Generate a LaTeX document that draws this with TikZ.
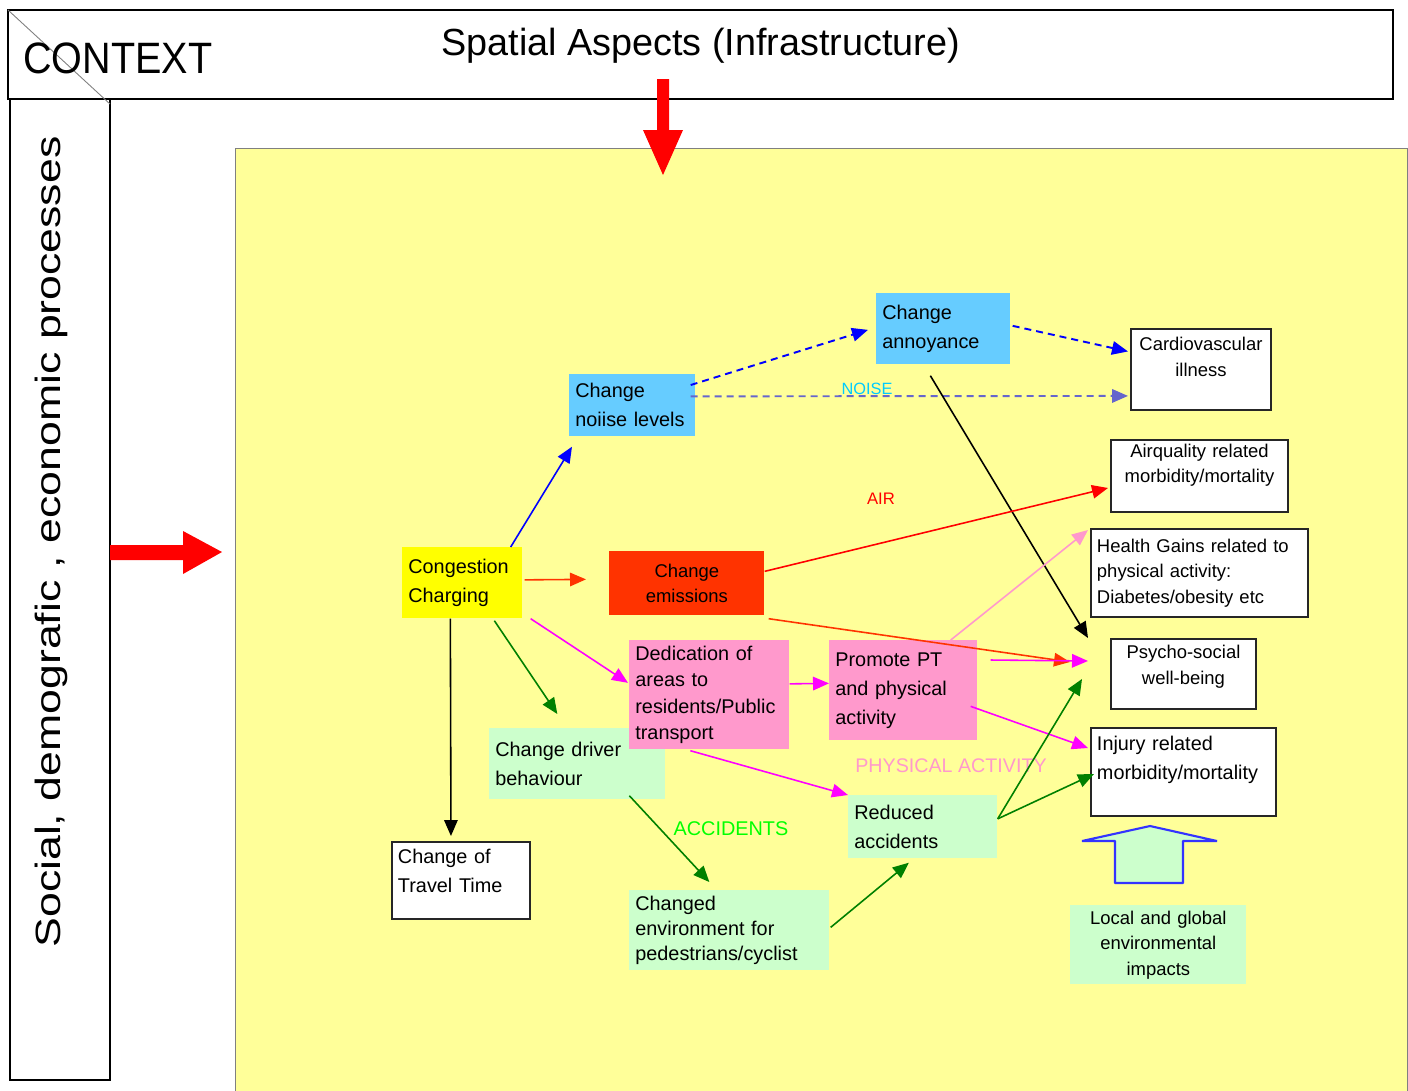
\documentclass[tikz,border=0pt]{standalone}
\usepackage{fontspec}
\setmainfont{Liberation Sans}
\usepackage{xcolor}
\definecolor{NoteYellow}{HTML}{FFFF99}
\definecolor{SkyBlue}{HTML}{66CCFF}
\definecolor{BrightYellow}{HTML}{FFFF00}
\definecolor{FlameRed}{HTML}{FF3300}
\definecolor{RosePink}{HTML}{FF99CC}
\definecolor{MintGreen}{HTML}{CCFFCC}
\definecolor{Periwinkle}{HTML}{6666CC}
\definecolor{LeafGreen}{HTML}{008000}
\definecolor{NeonGreen}{HTML}{00FF00}
\definecolor{Aqua}{HTML}{00CCFF}
\definecolor{HotMagenta}{HTML}{FF00FF}
\usepackage{tikz}
\usetikzlibrary{arrows.meta}

\newcommand{\bigtxt}{\fontsize{11.3}{16.5}\selectfont}
\newcommand{\smalltxt}{\fontsize{10.5}{14.5}\selectfont}

\tikzset{
  box/.style={anchor=north west, inner xsep=0.12cm, inner ysep=0.06cm, align=left, font=\bigtxt},
  plainbox/.style={box, fill=white, draw=black!85, line width=1.1pt, font=\smalltxt},
  link/.style={line width=0.9pt, -{Triangle[length=0.32cm,width=0.27cm]}},
  noisy/.style={link, line width=1.1pt, dash pattern=on 0.14cm off 0.1cm},
}

\begin{document}
\begin{tikzpicture}[x=0.02cm, y=-0.02cm]
  \useasboundingbox (0,0) rectangle (1408,1090);
  \fill[white] (0,0) rectangle (1408,1090);
  \fill[NoteYellow] (235,148) rectangle (1407,1092);
  \draw[gray, line width=0.4pt] (235,1092) -- (235,148) -- (1407,148) -- (1407,1092);
  \draw[line width=1.2pt] (8,10) rectangle (1393,99);
  \draw[line width=1.6pt] (10,99) rectangle (110,1080);
  \draw[gray, line width=0.5pt] (8,10) -- (110,104);

  \node[anchor=base west, inner sep=0pt, font=\fontsize{25}{30}\selectfont] (ctx) at (23,73) {\scalebox{0.9}[1]{CONTEXT}};
  \node[anchor=base west, inner sep=0pt, font=\fontsize{21.5}{25}\selectfont] (spatial) at (441,55) {Spatial Aspects (Infrastructure)};
  \node[rotate=90, anchor=base, inner sep=0pt, font=\fontsize{20}{24}\selectfont] (social) at (60,542)
    {\scalebox{1.27}[1]{Social, demografic , economic processes}};

  \fill[red] (657,79) -- (669,79) -- (669,130) -- (683,130) -- (663,175) -- (643,130) -- (657,130) -- cycle;
  \fill[red] (110,545) -- (183,545) -- (183,531) -- (222,552) -- (183,574) -- (183,560) -- (110,560) -- cycle;

  \node[box, fill=SkyBlue, text width=2.28cm, minimum height=1.24cm] (noise) at (569,374) {Change\\noiise levels};
  \node[box, fill=SkyBlue, text width=2.44cm, minimum height=1.42cm] (annoy) at (876,293) {Change\\annoyance};
  \node[plainbox, align=center, text width=2.56cm, minimum height=1.62cm] (cardio) at (1130,328) {Cardiovascular\\illness\\\mbox{}};
  \node[plainbox, align=center, text width=3.30cm, minimum height=1.44cm] (airq) at (1110,439) {Airquality related\\morbidity/mortality\\\mbox{}};
  \node[plainbox, text width=4.10cm, minimum height=1.76cm] (health) at (1090,528) {Health Gains related to\\physical activity:\\Diabetes/obesity etc};
  \node[box, fill=BrightYellow, text width=2.16cm, minimum height=1.42cm] (cong) at (402,547) {Congestion\\Charging};
  \node[box, fill=FlameRed, align=center, font=\smalltxt, text width=2.86cm, minimum height=1.28cm] (emis) at (609,551) {Change\\emissions};
  \node[box, fill=MintGreen, text width=3.28cm, minimum height=1.42cm] (driver) at (489,728) {Change driver\\behaviour};
  \node[box, fill=RosePink, font=\fontsize{11.3}{15}\selectfont, text width=2.96cm, minimum height=2.18cm] (dedic) at (629,640) {Dedication of\\areas to\\residents/Public\\transport};
  \node[box, fill=RosePink, text width=2.72cm, minimum height=2.00cm] (promo) at (829,640) {Promote PT\\and physical\\activity};
  \node[plainbox, align=center, text width=2.66cm, minimum height=1.40cm] (psycho) at (1110,638) {Psycho-social\\well-being\\[-4pt]\mbox{}};
  \node[plainbox, font=\bigtxt, text width=3.46cm, minimum height=1.76cm] (injury) at (1090,727) {Injury related\\morbidity/mortality\\\mbox{}};
  \node[box, fill=MintGreen, text width=2.74cm, minimum height=1.26cm] (reduced) at (848,795) {Reduced\\accidents};
  \node[plainbox, font=\bigtxt, text width=2.52cm, minimum height=1.54cm] (travel) at (391,841) {Change of\\Travel Time\\[-6pt]\mbox{}};
  \node[box, fill=MintGreen, font=\fontsize{11.3}{14.5}\selectfont, text width=3.76cm, minimum height=1.60cm] (envir) at (629,890) {Changed\\environment for\\pedestrians/cyclist};
  \node[box, fill=MintGreen, align=center, font=\smalltxt, text width=3.28cm, minimum height=1.58cm] (local) at (1070,905) {Local and global\\environmental\\impacts};

  \filldraw[fill=MintGreen, draw=blue!80, line width=1.2pt, line join=bevel] (1150,826) -- (1217,841) -- (1183,841) -- (1183,883)
    -- (1115,883) -- (1115,841) -- (1082,841) -- cycle;

  \node[text=Aqua, font=\fontsize{9.3}{11}\selectfont] (noiselbl) at (867,389) {NOISE};
  \node[text=red, font=\fontsize{9.5}{11}\selectfont] (airlbl) at (881,499) {AIR};
  \node[text=RosePink, font=\fontsize{11.2}{13}\selectfont] (physlbl) at (951,766) {PHYSICAL ACTIVITY};
  \node[text=NeonGreen, font=\fontsize{11.3}{13}\selectfont] (acclbl) at (731,829) {ACCIDENTS};

  \draw[link, blue] ([shift={(-12,0)}]cong.north east) -- ([shift={(3,10)}]noise.south west);
  \draw[noisy, blue] ([shift={(-5,11)}]noise.north east) -- ([shift={(-8,1)}]annoy.west);
  \draw[noisy, Periwinkle] ([shift={(-5,-9)}]noise.east) -- ([shift={(-2,-15)}]cardio.south west);
  \draw[noisy, blue] ([shift={(2,-3)}]annoy.east) -- ([shift={(-2,-18)}]cardio.west);
  \draw[link, black] ([shift={(-13,11)}]annoy.south) -- ([shift={(-22,0)}]psycho.north west);
  \draw[link, FlameRed] ([shift={(2,-3)}]cong.east) -- ([shift={(-23,-4)}]emis.west);
  \draw[link, red] ([shift={(0,-12)}]emis.east) -- ([shift={(-2,12)}]airq.west);
  \draw[link, FlameRed] ([shift={(4,3)}]emis.south east) -- ([shift={(-40,-12)}]psycho.west);
  \draw[link, HotMagenta] ([shift={(8,0)}]cong.south east) -- ([shift={(-1,-12)}]dedic.west);
  \draw[link, LeafGreen] ([shift={(32,2)}]cong.south) -- ([shift={(-20,-14)}]driver.north);
  \draw[link, black] ([shift={(-12,0)}]cong.south) -- ([shift={(-10,-5)}]travel.north);
  \draw[link, HotMagenta] ([shift={(0,-11)}]dedic.east) -- ([shift={(0,-7)}]promo.west);
  \draw[link, HotMagenta] ([shift={(-19,1)}]dedic.south) -- (reduced.north west);
  \draw[link, RosePink] ([shift={(-27,0)}]promo.north east) -- ([shift={(-2,2)}]health.north west);
  \draw[link, HotMagenta] ([shift={(13,20)}]promo.north east) -- ([shift={(-22,-13)}]psycho.west);
  \draw[link, HotMagenta] ([shift={(-7,16)}]promo.east) -- ([shift={(-2,21)}]injury.north west);
  \draw[link, LeafGreen] ([shift={(0,-8)}]reduced.east) -- ([shift={(-28,5)}]psycho.west);
  \draw[link, LeafGreen] ([shift={(0,-8)}]reduced.east) -- ([shift={(4,2)}]injury.west);
  \draw[link, LeafGreen] ([shift={(52,-4)}]driver.south) -- ([shift={(-20,-8)}]envir.north);
  \draw[link, LeafGreen] ([shift={(1,-3)}]envir.east) -- ([shift={(-14,4)}]reduced.south);
\end{tikzpicture}
\end{document}
